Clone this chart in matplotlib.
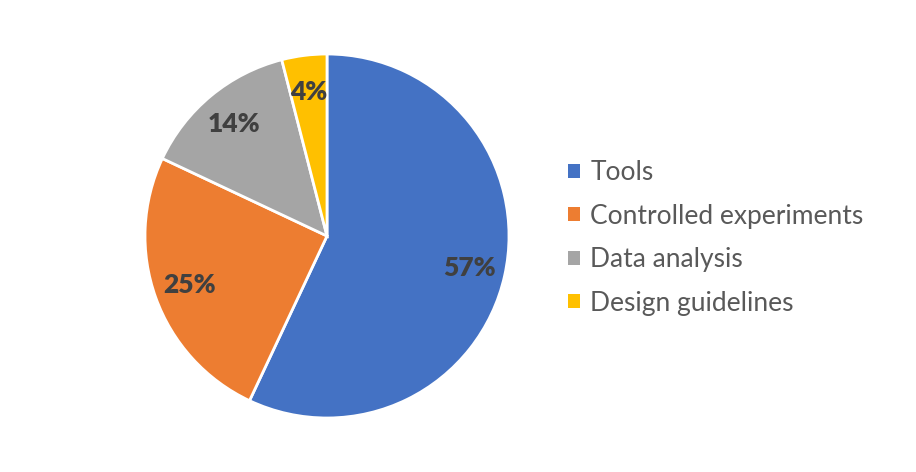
import matplotlib.pyplot as plt

''' chart data '''
categories = ['Tools', 'Controlled experiments', 'Data analysis', 'Design guidelines']
shares = [57, 25, 14, 4]
colors = ['#4472C4', '#ED7D31', '#A5A5A5', '#FFC000']

plt.rcParams['font.family'] = ['Lato', 'DejaVu Sans']

W, H = 916, 472
fig = plt.figure(figsize=(W / 100, H / 100), dpi=100)

# pie centre and radius in pixels
cx, cy, r = 327, 236, 182
ax = fig.add_axes([(cx - r) / W, (H - cy - r) / H, 2 * r / W, 2 * r / H])

wedges, texts, autotexts = ax.pie(
    shares, colors=colors, startangle=90, counterclock=False,
    autopct='%d%%', pctdistance=0.8,
    wedgeprops=dict(edgecolor='white', linewidth=2),
    textprops=dict(color='#404040', fontsize=19, fontweight='heavy'))
ax.set_aspect('equal')
ax.set_xlim(-1, 1)
ax.set_ylim(-1, 1)

leg = fig.legend(wedges, categories, loc='center left',
                 bbox_to_anchor=(568 / W, 1 - 238 / H), frameon=False,
                 borderpad=0, borderaxespad=0,
                 fontsize=19, handlelength=0.45, handleheight=0.45,
                 handletextpad=0.4, labelspacing=0.7)
for t in leg.get_texts():
    t.set_color('#595959')
for p in leg.get_patches():
    p.set_edgecolor('none')

fig.savefig('out.png', dpi=100)
